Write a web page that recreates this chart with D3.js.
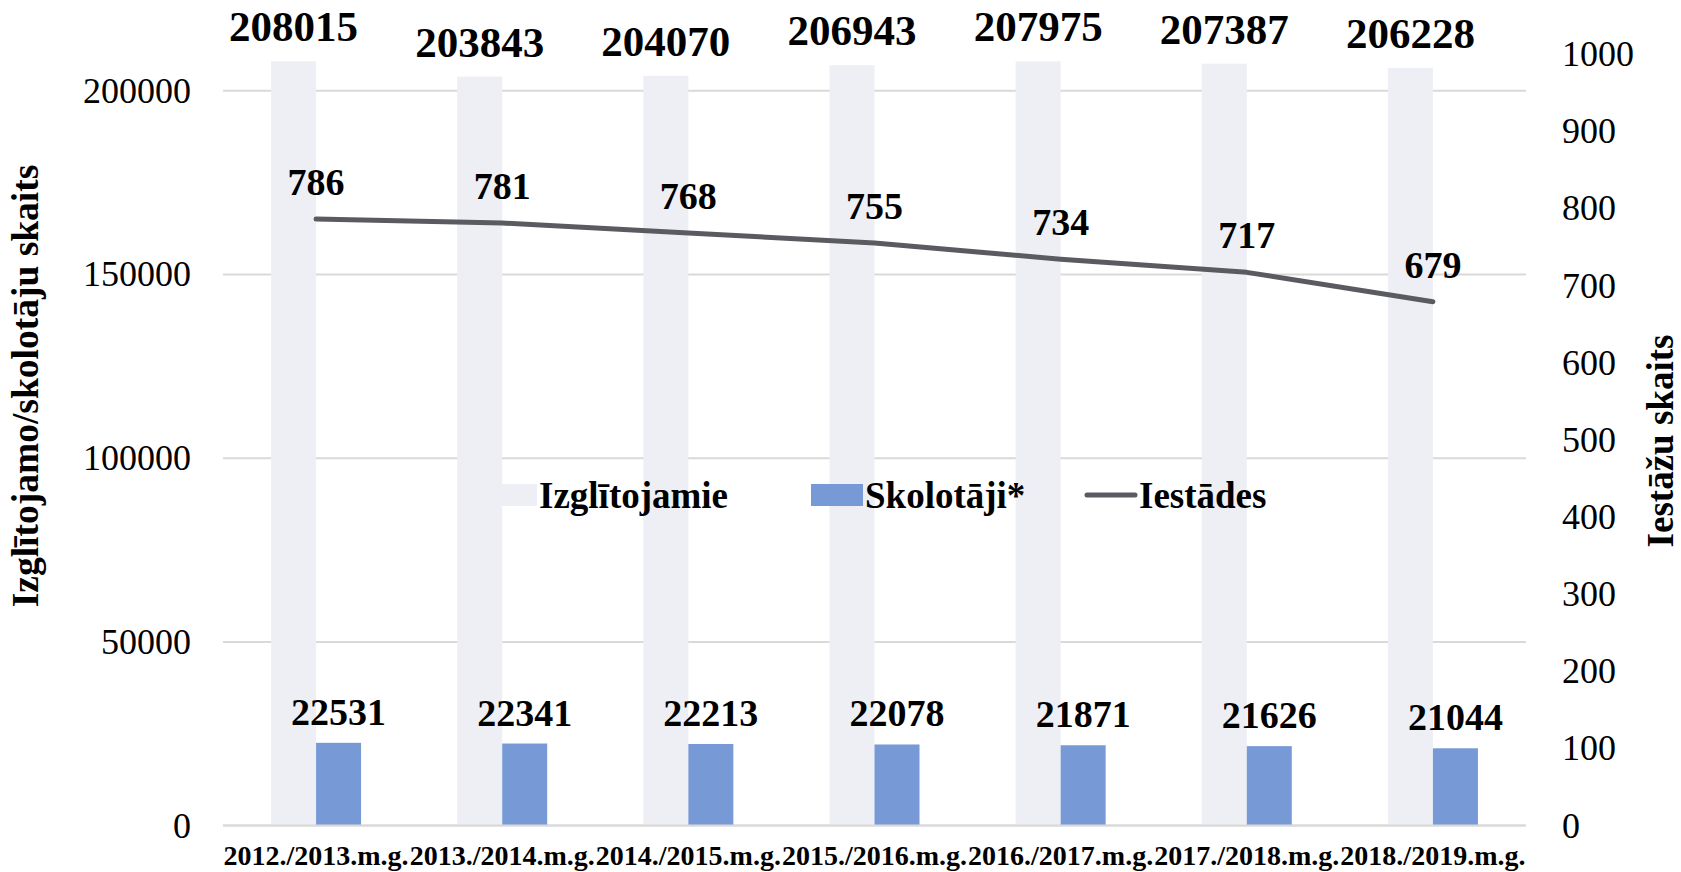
<!DOCTYPE html>
<html>
<head>
<meta charset="utf-8">
<script src="https://cdn.jsdelivr.net/npm/d3@7"></script>
<style>
  body { margin: 0; background: #fff; }
  svg text { font-family: "Liberation Serif", "Times New Roman", serif; }
</style>
</head>
<body>
<svg id="chart" width="1681" height="872"></svg>
<script>
// chart data
var years = ["2012./2013.m.g.", "2013./2014.m.g.", "2014./2015.m.g.", "2015./2016.m.g.",
             "2016./2017.m.g.", "2017./2018.m.g.", "2018./2019.m.g."];
var students = [208015, 203843, 204070, 206943, 207975, 207387, 206228];
var teachers = [22531, 22341, 22213, 22078, 21871, 21626, 21044];
var schools = [786, 781, 768, 755, 734, 717, 679];
var seriesNames = ["Izglītojamie", "Skolotāji*", "Iestādes"];
var leftTicks = [0, 50000, 100000, 150000, 200000];
var rightTicks = [0, 100, 200, 300, 400, 500, 600, 700, 800, 900, 1000];

var W = 1681, H = 872;
var plot = { left: 223, right: 1526, top: 54, bottom: 825.6 };
var barW = 45;
var lightColor = "#eeeff5";
var blueColor = "#779ad7";
var lineColor = "#595b61";

var svg = d3.select("#chart");

var x = d3.scaleBand()
    .domain(years)
    .range([plot.left, plot.right])
    .padding(0);

// the two bars sit side by side around the category centre
var x1 = d3.scaleBand()
    .domain(seriesNames.slice(0, 2))
    .range([x.bandwidth() / 2 - barW, x.bandwidth() / 2 + barW]);

var yLeft = d3.scaleLinear().domain([0, 210000]).range([plot.bottom, plot.top]);
var yRight = d3.scaleLinear().domain([0, 1000]).range([plot.bottom, plot.top]);

// gridlines
svg.append("g")
    .selectAll("line")
    .data(leftTicks)
    .enter()
    .append("line")
    .attr("x1", plot.left)
    .attr("x2", plot.right)
    .attr("y1", function(d) { return yLeft(d); })
    .attr("y2", function(d) { return yLeft(d); })
    .attr("stroke", "#d9d9d9")
    .attr("stroke-width", 2);

// left axis
var leftAxis = svg.append("g")
    .attr("transform", "translate(" + (plot.left - 32) + ",0)")
    .call(d3.axisLeft(yLeft).tickValues(leftTicks).tickSize(0).tickPadding(0).tickFormat(d3.format("d")));
leftAxis.select(".domain").remove();
leftAxis.selectAll("text")
    .attr("font-size", 36)
    .attr("fill", "#000")
    .attr("font-family", "Liberation Serif");

// right axis
var rightAxis = svg.append("g")
    .attr("transform", "translate(" + (plot.right + 36) + ",0)")
    .call(d3.axisRight(yRight).tickValues(rightTicks).tickSize(0).tickPadding(0).tickFormat(d3.format("d")));
rightAxis.select(".domain").remove();
rightAxis.selectAll("text")
    .attr("font-size", 36)
    .attr("fill", "#000")
    .attr("font-family", "Liberation Serif");

// bars
var groups = svg.append("g")
    .selectAll("g")
    .data(years)
    .enter()
    .append("g")
    .attr("transform", function(d) { return "translate(" + x(d) + ",0)"; });

groups.append("rect")
    .attr("x", x1(seriesNames[0]))
    .attr("width", x1.bandwidth())
    .attr("y", function(d, i) { return yLeft(students[i]); })
    .attr("height", function(d, i) { return plot.bottom - yLeft(students[i]); })
    .attr("fill", lightColor);

groups.append("rect")
    .attr("x", x1(seriesNames[1]))
    .attr("width", x1.bandwidth())
    .attr("y", function(d, i) { return yLeft(teachers[i]); })
    .attr("height", function(d, i) { return plot.bottom - yLeft(teachers[i]); })
    .attr("fill", blueColor);

// baseline
svg.append("line")
    .attr("x1", plot.left)
    .attr("x2", plot.right)
    .attr("y1", plot.bottom)
    .attr("y2", plot.bottom)
    .attr("stroke", "#d9d9d9")
    .attr("stroke-width", 2);

// line series
var line = d3.line()
    .x(function(d, i) { return x(years[i]) + x.bandwidth() / 2; })
    .y(function(d) { return yRight(d); });

svg.append("path")
    .datum(schools)
    .attr("d", line)
    .attr("fill", "none")
    .attr("stroke", lineColor)
    .attr("stroke-width", 5)
    .attr("stroke-linejoin", "round")
    .attr("stroke-linecap", "round");

// data labels
groups.append("text")
    .attr("x", x1(seriesNames[0]) + x1.bandwidth() / 2)
    .attr("y", function(d, i) { return yLeft(students[i]) - 20; })
    .attr("text-anchor", "middle")
    .attr("font-size", 43)
    .attr("font-weight", "bold")
    .text(function(d, i) { return students[i]; });

groups.append("text")
    .attr("x", x1(seriesNames[1]) + x1.bandwidth() / 2)
    .attr("y", function(d, i) { return yLeft(teachers[i]) - 18; })
    .attr("text-anchor", "middle")
    .attr("font-size", 38)
    .attr("font-weight", "bold")
    .text(function(d, i) { return teachers[i]; });

groups.append("text")
    .attr("x", x.bandwidth() / 2)
    .attr("y", function(d, i) { return yRight(schools[i]) - 24; })
    .attr("text-anchor", "middle")
    .attr("font-size", 38)
    .attr("font-weight", "bold")
    .text(function(d, i) { return schools[i]; });

// category labels
groups.append("text")
    .attr("x", x.bandwidth() / 2)
    .attr("y", 865)
    .attr("text-anchor", "middle")
    .attr("font-size", 28)
    .attr("font-weight", "bold")
    .text(function(d) { return d; });

// axis titles
svg.append("text")
    .attr("transform", "translate(38,386) rotate(-90)")
    .attr("text-anchor", "middle")
    .attr("font-size", 37.5)
    .attr("font-weight", "bold")
    .text("Izglītojamo/skolotāju skaits");

svg.append("text")
    .attr("transform", "translate(1673,441) rotate(-90)")
    .attr("text-anchor", "middle")
    .attr("font-size", 37)
    .attr("font-weight", "bold")
    .text("Iestāžu skaits");

// legend
var legendY = 495;
var legendItems = [
    { name: seriesNames[0], x: 485, type: "rect", color: lightColor },
    { name: seriesNames[1], x: 811, type: "rect", color: blueColor },
    { name: seriesNames[2], x: 1085, type: "line", color: lineColor }
];

var legend = svg.append("g")
    .selectAll("g")
    .data(legendItems)
    .enter()
    .append("g")
    .attr("transform", function(d) { return "translate(" + d.x + "," + legendY + ")"; });

legend.filter(function(d) { return d.type === "rect"; })
    .append("rect")
    .attr("x", 0)
    .attr("y", -11)
    .attr("width", 52)
    .attr("height", 22)
    .attr("fill", function(d) { return d.color; });

legend.filter(function(d) { return d.type === "line"; })
    .append("line")
    .attr("x1", 2)
    .attr("x2", 50)
    .attr("y1", 0)
    .attr("y2", 0)
    .attr("stroke", function(d) { return d.color; })
    .attr("stroke-width", 5)
    .attr("stroke-linecap", "round");

legend.append("text")
    .attr("x", 54)
    .attr("y", 0)
    .attr("dy", "0.35em")
    .attr("font-size", 37)
    .attr("font-weight", "bold")
    .text(function(d) { return d.name; });
</script>
</body>
</html>
